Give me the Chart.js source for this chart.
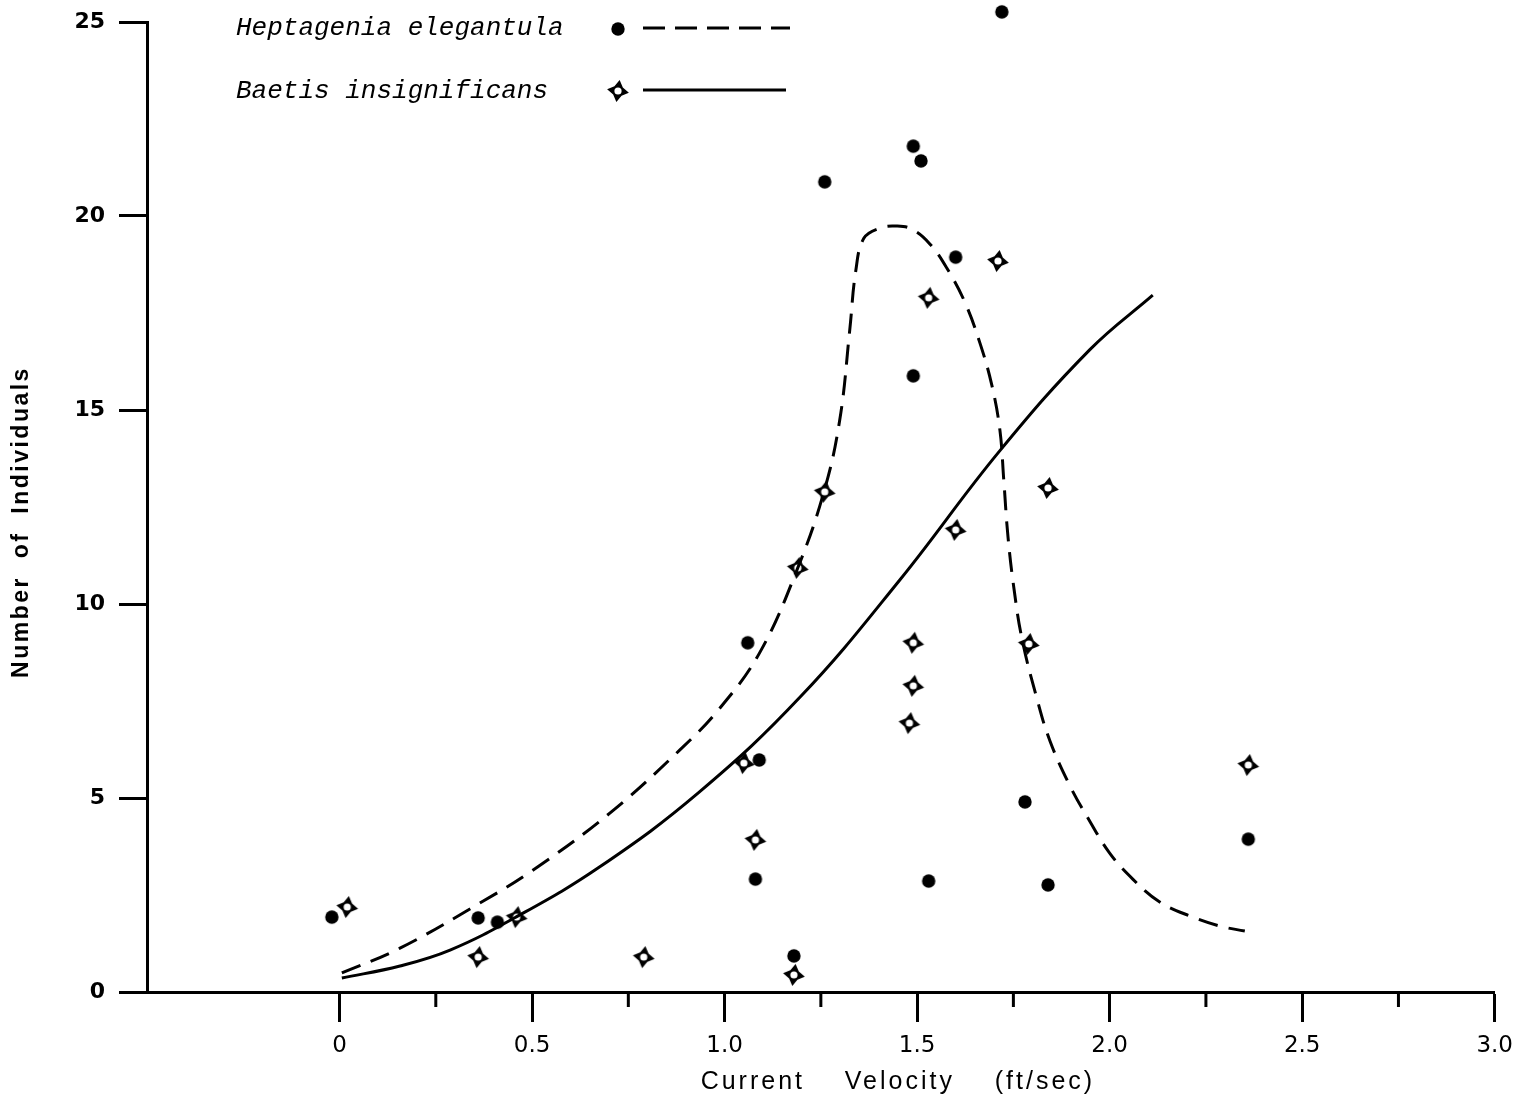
<!DOCTYPE html>
<html>
<head>
<meta charset="utf-8">
<script src="https://cdn.jsdelivr.net/npm/chart.js@4.4.1/dist/chart.umd.min.js"></script>
<style>
html,body{margin:0;padding:0;background:#fff;}
#wrap{width:1523px;height:1104px;position:relative;}
</style>
</head>
<body>
<div id="wrap"><canvas id="c" width="1523" height="1104"></canvas></div>
<script>
// ---- Data ----
const seriesNames = ['Heptagenia elegantula', 'Baetis insignificans'];

const heptagX = [-0.02, 0.36, 0.41, 1.06, 1.09, 1.08, 1.18, 1.26, 1.49, 1.51, 1.72, 1.60, 1.49, 1.53, 1.78, 1.84, 2.36];
const heptagY = [1.93, 1.91, 1.80, 9.0, 5.98, 2.91, 0.93, 20.88, 21.8, 21.42, 25.26, 18.94, 15.88, 2.86, 4.90, 2.76, 3.94];

const baetisX = [0.02, 0.36, 0.46, 0.79, 1.05, 1.08, 1.18, 1.19, 1.26, 1.49, 1.49, 1.48, 1.53, 1.60, 1.71, 1.79, 1.84, 2.36];
const baetisY = [2.19, 0.90, 1.93, 0.90, 5.90, 3.92, 0.44, 10.93, 12.89, 9.0, 7.89, 6.93, 17.89, 11.91, 18.84, 8.97, 12.99, 5.85];

// fitted curve (dashed) for Heptagenia
const heptagCurveX = [0.006,0.157,0.364,0.502,0.702,0.884,0.988,1.092,1.188,1.258,1.299,1.325,1.341,1.362,1.404,1.447,1.486,1.533,1.577,1.624,1.663,1.694,1.715,1.725,1.736,1.752,1.773,1.812,1.845,1.897,1.948,2.000,2.060,2.130,2.216,2.286,2.351];
const heptagCurveY = [0.49,1.13,2.29,3.14,4.61,6.24,7.32,8.76,10.88,12.89,14.74,17.06,18.61,19.43,19.69,19.74,19.66,19.28,18.66,17.78,16.73,15.64,14.48,13.20,11.73,10.36,9.07,7.53,6.47,5.31,4.41,3.58,2.91,2.32,1.93,1.70,1.57];

// fitted curve (solid) for Baetis
const baetisCurveX = [0.006,0.157,0.287,0.458,0.675,0.934,1.198,1.455,1.714,1.948,2.112];
const baetisCurveY = [0.36,0.67,1.08,1.93,3.22,5.15,7.62,10.62,13.94,16.55,17.96];

const xTickLabels = ['0','0.5','1.0','1.5','2.0','2.5','3.0'];
const yTickLabels = ['0','5','10','15','20','25'];
const xTitle = 'Current    Velocity    (ft/sec)';
const yTitle = 'Number  of  Individuals';

// ---- helpers ----
const zip = (xs, ys) => xs.map((x, i) => ({x, y: ys[i]}));

function makeStar() {
  const c = document.createElement('canvas');
  c.width = 26; c.height = 26;
  const g = c.getContext('2d');
  const cx = 13, cy = 13, R = 11, r = 6, tilt = 0.15;
  g.beginPath();
  for (let i = 0; i < 8; i++) {
    const a = tilt - Math.PI / 2 + i * Math.PI / 4;
    const rr = (i % 2 === 0) ? R : r;
    const px = cx + rr * Math.cos(a), py = cy + rr * Math.sin(a);
    if (i === 0) g.moveTo(px, py); else g.lineTo(px, py);
  }
  g.closePath();
  g.fillStyle = '#000';
  g.fill();
  g.beginPath();
  g.arc(cx, cy, 3.6, 0, Math.PI * 2);
  g.fillStyle = '#fff';
  g.fill();
  return c;
}
function makeDot() {
  const c = document.createElement('canvas');
  c.width = 16; c.height = 16;
  const g = c.getContext('2d');
  g.beginPath();
  g.arc(8, 8, 6.7, 0, Math.PI * 2);
  g.fillStyle = '#000';
  g.fill();
  return c;
}
const starImg = makeStar();
const dotImg = makeDot();

const isMajor = v => v >= -1e-9 && Math.abs(v * 2 - Math.round(v * 2)) < 1e-6;

const decorPlugin = {
  id: 'decor',
  afterDraw(chart) {
    const ctx = chart.ctx;
    const xs = chart.scales.x, ys = chart.scales.y;
    ctx.save();
    // minor x ticks
    ctx.strokeStyle = '#000';
    ctx.lineWidth = 3;
    xs.ticks.forEach(t => {
      if (t.value > 0 && !isMajor(t.value)) {
        const px = xs.getPixelForValue(t.value);
        ctx.beginPath();
        ctx.moveTo(px, ys.bottom);
        ctx.lineTo(px, ys.bottom + 15);
        ctx.stroke();
      }
    });
    // axis titles
    ctx.fillStyle = '#000';
    ctx.textAlign = 'center';
    ctx.textBaseline = 'middle';
    ctx.font = '25px "Liberation Sans", Arial, sans-serif';
    try { ctx.letterSpacing = '3px'; } catch (e) {}
    ctx.fillText(xTitle, xs.getPixelForValue(1.45), 1082);
    ctx.save();
    ctx.translate(22, 522);
    ctx.rotate(-Math.PI / 2);
    ctx.font = 'bold 23px "Liberation Sans", Arial, sans-serif';
    try { ctx.letterSpacing = '2.5px'; } catch (e) {}
    ctx.fillText(yTitle, 0, 0);
    ctx.restore();
    try { ctx.letterSpacing = '0px'; } catch (e) {}
    // legend
    ctx.font = 'italic 26px "Liberation Mono", "DejaVu Sans Mono", monospace';
    ctx.textAlign = 'left';
    ctx.fillText(seriesNames[0], 236, 28);
    ctx.fillText(seriesNames[1], 236, 91);
    ctx.drawImage(dotImg, 618 - 8, 29 - 8);
    ctx.drawImage(starImg, 618 - 13, 91 - 13);
    ctx.lineWidth = 3;
    ctx.setLineDash([22, 10]);
    ctx.beginPath(); ctx.moveTo(643, 28); ctx.lineTo(790, 28); ctx.stroke();
    ctx.setLineDash([]);
    ctx.beginPath(); ctx.moveTo(643, 90); ctx.lineTo(786, 90); ctx.stroke();
    ctx.restore();
  }
};

new Chart(document.getElementById('c'), {
  type: 'scatter',
  data: {
    datasets: [
      {
        label: seriesNames[0] + ' fit',
        data: zip(heptagCurveX, heptagCurveY),
        showLine: true,
        borderColor: '#000',
        borderWidth: 3,
        borderDash: [20, 11],
        pointRadius: 0,
        tension: 0.4,
        fill: false
      },
      {
        label: seriesNames[1] + ' fit',
        data: zip(baetisCurveX, baetisCurveY),
        showLine: true,
        borderColor: '#000',
        borderWidth: 3,
        pointRadius: 0,
        tension: 0.4,
        fill: false
      },
      {
        label: seriesNames[0],
        data: zip(heptagX, heptagY),
        pointStyle: dotImg,
        pointRadius: 12,
        clip: false
      },
      {
        label: seriesNames[1],
        data: zip(baetisX, baetisY),
        pointStyle: starImg,
        pointRadius: 12,
        clip: false
      }
    ]
  },
  options: {
    responsive: false,
    animation: false,
    devicePixelRatio: 1,
    layout: { autoPadding: false, padding: { left: 0, top: 22, right: 28, bottom: 0 } },
    plugins: { legend: { display: false }, tooltip: { enabled: false } },
    scales: {
      x: {
        type: 'linear',
        min: -0.5, max: 3.0,
        afterFit: s => { s.height = 112; },
        border: { display: true, color: '#000', width: 3 },
        grid: {
          drawOnChartArea: false,
          drawTicks: true,
          tickLength: 30,
          tickWidth: 3,
          tickColor: ctx => (ctx.tick && isMajor(ctx.tick.value)) ? '#000' : 'rgba(0,0,0,0)'
        },
        ticks: {
          stepSize: 0.25,
          autoSkip: false,
          maxRotation: 0,
          padding: 10,
          color: '#000',
          font: { family: '"DejaVu Sans", sans-serif', size: 23 },
          callback: v => isMajor(v) ? xTickLabels[Math.round(v * 2)] : ''
        }
      },
      y: {
        type: 'linear',
        min: 0, max: 25,
        afterFit: s => { s.width = 147; s.paddingTop = 0; s.paddingBottom = 0; },
        border: { display: true, color: '#000', width: 3 },
        grid: {
          drawOnChartArea: false,
          drawTicks: true,
          tickLength: 28,
          tickWidth: 3,
          tickColor: '#000'
        },
        ticks: {
          stepSize: 5,
          padding: 14,
          color: '#000',
          font: { family: '"DejaVu Sans", sans-serif', size: 22, weight: 'bold' },
          callback: v => yTickLabels[Math.round(v / 5)]
        }
      }
    }
  },
  plugins: [decorPlugin]
});
</script>
</body>
</html>
